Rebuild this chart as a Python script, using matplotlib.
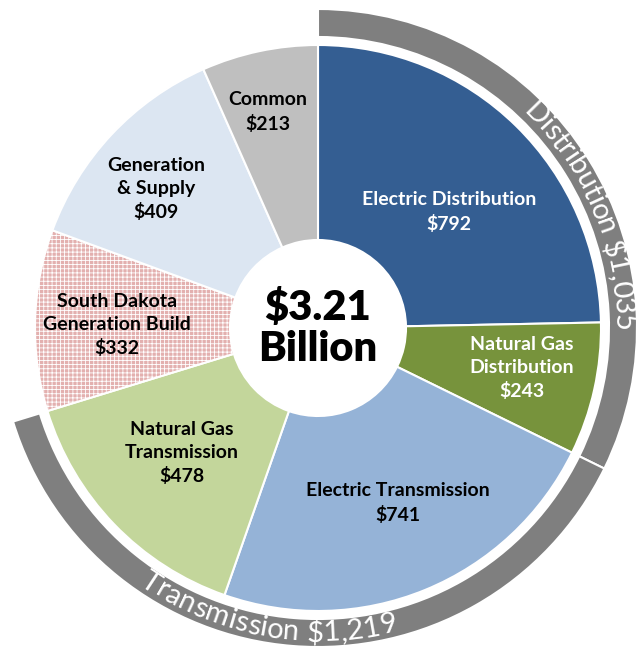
import matplotlib
matplotlib.use("Agg")
import matplotlib.pyplot as plt
import numpy as np
from matplotlib.font_manager import FontProperties

# slice data, clockwise from 12 o'clock ($ millions)
segments = ["Electric Distribution", "Natural Gas\nDistribution", "Electric Transmission",
            "Natural Gas\nTransmission", "South Dakota\nGeneration Build", "Generation\n& Supply",
            "Common"]
amounts = [792, 243, 741, 478, 332, 409, 213]
colors = ["#345E92", "#77933C", "#95B3D7", "#C3D69B", "#E3B0AF", "#DCE6F2", "#BFBFBF"]
label_colors = ["white", "white", "black", "black", "black", "black", "black"]

# outer groups
groups = ["Distribution", "Transmission"]
group_amounts = [amounts[0] + amounts[1], amounts[2] + amounts[3]]
total_label = "$3.21\nBillion"

plt.rcParams["font.family"] = ["Lato", "DejaVu Sans"]
plt.rcParams["hatch.color"] = "white"
plt.rcParams["hatch.linewidth"] = 0.6

W, H = 641, 656
fig = plt.figure(figsize=(W / 100, H / 100), dpi=100)
ax = fig.add_axes([0, 0, 1, 1])

cx, cy = 318, 328
R, r_hole = 283, 88
ring_in, ring_out = 291, 319

wedges, _ = ax.pie(amounts, colors=colors, startangle=90, counterclock=False,
                   radius=R, center=(cx, cy),
                   wedgeprops=dict(width=R - r_hole, edgecolor="white", linewidth=1.5))
# dotted pattern on the South Dakota build
wedges[4].set_hatch("++++")

rest = sum(amounts) - sum(group_amounts)
ring, _ = ax.pie(group_amounts + [rest], colors=["#7F7F7F", "#7F7F7F", "white"],
                 startangle=90, counterclock=False, radius=ring_out, center=(cx, cy),
                 wedgeprops=dict(width=ring_out - ring_in, edgecolor="white", linewidth=1.5))
ring[2].set_visible(False)

ax.set_xlim(0, W)
ax.set_ylim(0, H)
ax.set_aspect("equal")
ax.axis("off")

# slice labels (image positions of text centres)
label_pos = [(449, 212), (522, 368), (398, 503), (182, 453), (117, 325), (156, 189), (268, 112)]
for name, amt, (px, py), lc in zip(segments, amounts, label_pos, label_colors):
    ax.text(px, H - py, "%s\n$%d" % (name, amt), ha="center", va="center",
            fontsize=14, fontweight="bold", color=lc, linespacing=1.42)

ax.text(cx, cy, total_label, ha="center", va="center", fontsize=30,
        fontweight="heavy", color="black", linespacing=1.1)

renderer = fig.canvas.get_renderer()
fp = FontProperties(family=["Lato", "DejaVu Sans"], size=21)


def text_width(s):
    if not s:
        return 0.0
    w, h, d = renderer.get_text_width_height_descent(s, fp, ismath=False)
    return w


def curved_text(s, rad, theta0, clockwise):
    total = text_width(s)
    for i, ch in enumerate(s):
        if ch == " ":
            continue
        mid = (text_width(s[:i]) + text_width(s[:i + 1])) / 2.0 - total / 2.0
        dth = np.degrees(mid / rad)
        if clockwise:
            th = theta0 - dth
            rot = th - 90
        else:
            th = theta0 + dth
            rot = th + 90
        x = cx + rad * np.cos(np.radians(th))
        y = cy + rad * np.sin(np.radians(th))
        ax.text(x, y, ch, fontproperties=fp, color="white", ha="center", va="center",
                rotation=rot, rotation_mode="anchor")


curved_text("%s $%s" % (groups[0], format(group_amounts[0], ",")), 305, 23, True)
curved_text("%s $%s" % (groups[1], format(group_amounts[1], ",")), 305, -100, False)

fig.savefig("out.png", dpi=100, facecolor="white")
